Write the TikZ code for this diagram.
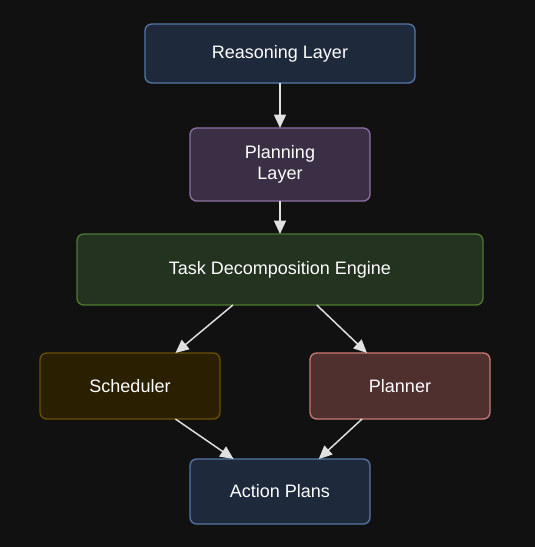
\documentclass[tikz,border=0pt]{standalone}
\usepackage{fontspec}
\setmainfont{Liberation Sans}
\usetikzlibrary{arrows.meta}
\definecolor{bg}{HTML}{111111}
\definecolor{navyfill}{HTML}{1E293B}
\definecolor{navyline}{HTML}{5577A8}
\definecolor{purpfill}{HTML}{3A2F45}
\definecolor{purpline}{HTML}{8E6FA3}
\definecolor{greenfill}{HTML}{233320}
\definecolor{greenline}{HTML}{4E7A30}
\definecolor{brownfill}{HTML}{2A1F00}
\definecolor{brownline}{HTML}{6B5000}
\definecolor{redfill}{HTML}{502F2F}
\definecolor{redline}{HTML}{C87A72}
\definecolor{arrowc}{HTML}{E0E0E0}
\begin{document}
\begin{tikzpicture}[x=0.75pt,y=-0.75pt,
  box/.style={draw, line width=1pt, rounded corners=5pt, outer sep=0pt, inner sep=0pt,
    text=white, font=\fontsize{13.5}{16}\selectfont, align=center},
  conn/.style={draw=arrowc, line width=1.1pt, -{Triangle[length=10pt,width=9pt]}, fill=arrowc}]
\fill[bg] (0,0) rectangle (535,547);
\useasboundingbox (0,0) rectangle (535,547);
\node[box, fill=navyfill, draw=navyline, minimum width=202.5pt, minimum height=44.25pt] (reason) at (280,53.5) {Reasoning Layer};
\node[box, fill=purpfill, draw=purpline, minimum width=135pt, minimum height=54.75pt] (plan) at (280,164.5) {Planning\\Layer};
\node[box, fill=greenfill, draw=greenline, minimum width=304.5pt, minimum height=53.25pt] (task) at (280,269.5) {Task Decomposition Engine};
\node[box, fill=brownfill, draw=brownline, minimum width=135pt, minimum height=49.5pt] (sched) at (130,386) {Scheduler};
\node[box, fill=redfill, draw=redline, minimum width=135pt, minimum height=49.5pt] (planner) at (400,386) {Planner};
\node[box, fill=navyfill, draw=navyline, minimum width=135pt, minimum height=48.75pt] (action) at (280,491.5) {Action Plans};
\draw[conn] (reason.south) -- (plan.north);
\draw[conn] (plan.south) -- (task.north);
\draw[conn] (task.217.7) -- (sched.36.9);
\draw[conn] (task.316.2) -- (planner.135.9);
\draw[conn] (sched.324.9) -- (action.145.3);
\draw[conn] (planner.221) -- (action.40.5);
\end{tikzpicture}
\end{document}
